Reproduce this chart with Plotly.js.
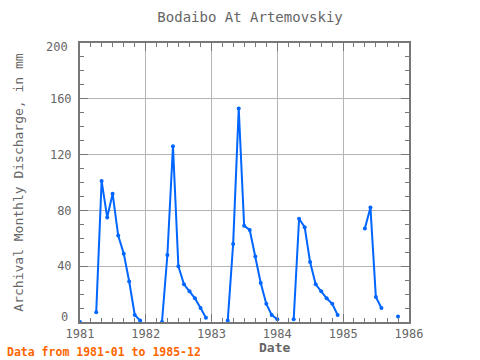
<!DOCTYPE html>
<html>
<head>
<meta charset="utf-8">
<script src="https://cdn.plot.ly/plotly-3.0.1.min.js"></script>
<style>
html,body{margin:0;padding:0;background:#fff;}
#chart{width:480px;height:360px;}
</style>
</head>
<body>
<div id="chart"></div>
<script>
// Monthly discharge (mm), null = missing month
var years = [1981, 1982, 1983, 1984, 1985];
var v1981 = [0, null, null, 7, 101, 75, 92, 62, 49, 29, 5, 1];
var v1982 = [null, null, null, 0, 48, 126, 40, 27, 22, 17, 10, 3];
var v1983 = [null, null, null, 1, 56, 153, 69, 66, 47, 28, 13, 5];
var v1984 = [2, null, null, 2, 74, 68, 43, 27, 22, 17, 13, 5];
var v1985 = [null, null, null, null, 67, 82, 18, 10, null, null, 4, null];
var yearValues = [v1981, v1982, v1983, v1984, v1985];
var monthCodes = ['01','02','03','04','05','06','07','08','09','10','11','12'];

var xTickVals = ['1981-01-01','1982-01-01','1983-01-01','1984-01-01','1985-01-01','1986-01-01'];
var xTickText = ['1981','1982','1983','1984','1985','1986'];
var yTickVals = [0, 40, 80, 120, 160, 200];
var yTickText = ['0', '40', '80', '120', '160', '200'];

var dates = [], values = [];
years.forEach(function(y, i){
  monthCodes.forEach(function(m, j){
    dates.push(y + '-' + m + '-01');
    values.push(yearValues[i][j]);
  });
});

var grey = '#666666';
var frame = '#777777';
var fontMono = '"DejaVu Sans Mono", "Liberation Mono", monospace';

var trace = {
  x: dates, y: values, type: 'scatter', mode: 'lines+markers',
  line: {color: '#0066FF', width: 2},
  marker: {color: '#0066FF', size: 4},
  connectgaps: false, hoverinfo: 'skip'
};

// end labels of the y axis are nudged inside the frame, as in the reference
var yTickShown = yTickText.map(function(t, i){ return (i === 0 || i === yTickText.length - 1) ? ' ' : t; });
var endLabels = [
  {text: yTickText[0], xref: 'paper', yref: 'y', x: 0, y: yTickVals[0], xanchor: 'right', yanchor: 'middle',
   xshift: -10, yshift: 5, showarrow: false, font: {family: fontMono, size: 12, color: grey}},
  {text: yTickText[yTickText.length - 1], xref: 'paper', yref: 'y', x: 0, y: yTickVals[yTickVals.length - 1],
   xanchor: 'right', yanchor: 'middle', xshift: -10, yshift: -4, showarrow: false,
   font: {family: fontMono, size: 12, color: grey}}
];

var layout = {
  width: 480, height: 360,
  margin: {l: 80, r: 71, t: 43, b: 38},
  paper_bgcolor: '#ffffff', plot_bgcolor: '#ffffff',
  showlegend: false,
  font: {family: fontMono, color: grey, size: 12},
  title: {text: 'Bodaibo At Artemovskiy', font: {family: fontMono, size: 14, color: grey},
          xref: 'container', x: 0.521, xanchor: 'center', yref: 'container', y: 0.953, yanchor: 'middle'},
  xaxis: {
    type: 'date', range: ['1981-01-01', '1986-01-01'],
    tickmode: 'array', tickvals: xTickVals, ticktext: xTickText,
    ticks: 'inside', ticklen: 8, tickwidth: 1, tickcolor: frame,
    showline: true, linecolor: frame, linewidth: 2, mirror: 'allticks',
    showgrid: true, gridcolor: '#b4b4b4', gridwidth: 1,
    zeroline: false,
    tickfont: {family: fontMono, size: 12, color: grey},
    minor: {dtick: 'M2', tick0: '1981-01-01', ticks: 'inside', ticklen: 4, tickcolor: frame, showgrid: false}
  },
  yaxis: {
    range: [0, 200],
    tickmode: 'array', tickvals: yTickVals, ticktext: yTickShown,
    ticks: 'inside', ticklen: 8, tickwidth: 1, tickcolor: frame,
    showline: true, linecolor: frame, linewidth: 2, mirror: 'allticks',
    showgrid: true, gridcolor: '#b4b4b4', gridwidth: 1,
    zeroline: false,
    ticklabelstandoff: 4,
    tickfont: {family: fontMono, size: 12, color: grey},
    minor: {dtick: 10, tick0: 0, ticks: 'inside', ticklen: 4, tickcolor: frame, showgrid: false}
  },
  annotations: endLabels.concat([
    {text: 'Archival Monthly Discharge, in mm', xref: 'paper', yref: 'paper',
     x: -0.188, y: 0.5, xanchor: 'center', yanchor: 'middle', textangle: -90, showarrow: false,
     font: {family: fontMono, size: 13, color: grey}},
    {text: '<b>Date</b>', xref: 'paper', yref: 'paper',
     x: 0.59, y: -0.093, xanchor: 'center', yanchor: 'middle', showarrow: false,
     font: {family: fontMono, size: 13, color: grey}},
    {text: '<b>Data from 1981-01 to 1985-12</b>', xref: 'paper', yref: 'paper',
     x: -0.228, y: -0.1075, xanchor: 'left', yanchor: 'middle', showarrow: false,
     font: {family: fontMono, size: 11.5, color: '#FF6600'}}
  ])
};

Plotly.newPlot('chart', [trace], layout, {staticPlot: true, displayModeBar: false});
</script>
</body>
</html>
